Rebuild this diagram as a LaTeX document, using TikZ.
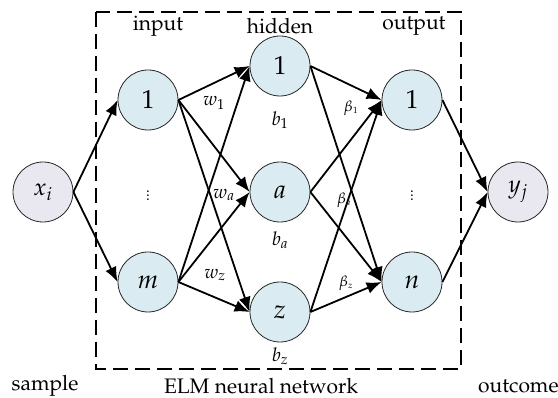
\documentclass[tikz,border=0pt]{standalone}
\usepackage[T1]{fontenc}
\usepackage{mathpazo}
\usetikzlibrary{arrows.meta}
\definecolor{nodeblue}{RGB}{218,236,242}
\definecolor{nodelav}{RGB}{233,231,240}
\begin{document}
\begin{tikzpicture}[x=1pt,y=-1pt,
  neuron/.style={circle,draw=black!85,line width=0.8pt,minimum size=60pt,inner sep=0pt,fill=nodeblue,font=\fontsize{26}{30}\selectfont},
  ionode/.style={neuron,fill=nodelav,font=\fontsize{24}{28}\selectfont},
  conn/.style={line width=1.8pt,-{Latex[length=15pt,width=12pt]}},
  lbl/.style={font=\fontsize{21}{24}\selectfont,inner sep=0pt},
  wlbl/.style={font=\fontsize{19}{22}\selectfont,inner sep=0pt},
  blbl/.style={font=\fontsize{15}{18}\selectfont,inner sep=0pt}]
\useasboundingbox (0,0) rectangle (558,398);
\draw[line width=1.8pt,dash pattern=on 15pt off 7pt] (96,12) rectangle (461,369);
% nodes
\node[ionode] (x) at (43,192) {$x_i$};
\node[neuron] (i1) at (148,100) {1};
\node[neuron] (im) at (148,282) {$m$};
\node[neuron] (h1) at (280,66) {1};
\node[neuron] (ha) at (280,192) {$a$};
\node[neuron] (hz) at (280,312) {$z$};
\node[neuron] (o1) at (412,100) {1};
\node[neuron] (on) at (412,282) {$n$};
\node[ionode] (y) at (518,192) {$y_j$};
\node[blbl] (di) at (148,193) {$\vdots$};
\node[blbl] (do) at (412,193) {$\vdots$};
% headers
\node[lbl] (tin) at (158,26) {input};
\node[lbl] (thid) at (280,26) {hidden};
\node[lbl] (tout) at (414,26) {output};
\node[lbl] (tsam) at (45,386) {sample};
\node[lbl] (telm) at (261,386) {ELM neural network};
\node[lbl,anchor=west] (tocm) at (478,386) {outcome};
% connectors
\draw[conn] (x.east) -- (i1.west);
\draw[conn] (x.east) -- (im.west);
\foreach \s in {i1,im}{
  \foreach \t in {h1,ha,hz}{
    \draw[conn] (\s.east) -- (\t.west);
  }
}
\foreach \s in {h1,ha,hz}{
  \foreach \t in {o1,on}{
    \draw[conn] (\s.east) -- (\t.west);
  }
}
\draw[conn] (o1.east) -- (y.west);
\draw[conn] (on.east) -- (y.west);
% weight labels
\node[wlbl] (w1) at (214,103) {$w_1$};
\node[wlbl] (wa) at (224,195) {$w_a$};
\node[wlbl] (wz) at (215,275) {$w_z$};
\node[wlbl] (b1) at (280,120) {$b_1$};
\node[wlbl] (ba) at (280,240) {$b_a$};
\node[wlbl] (bz) at (280,356) {$b_z$};
\node[blbl] (be1) at (351,108) {$\beta_{\scriptscriptstyle 1}$};
\node[blbl] (bea) at (344,200) {$\beta_{\scriptscriptstyle a}$};
\node[blbl] (bez) at (346,283) {$\beta_{\scriptscriptstyle z}$};
\end{tikzpicture}
\end{document}
